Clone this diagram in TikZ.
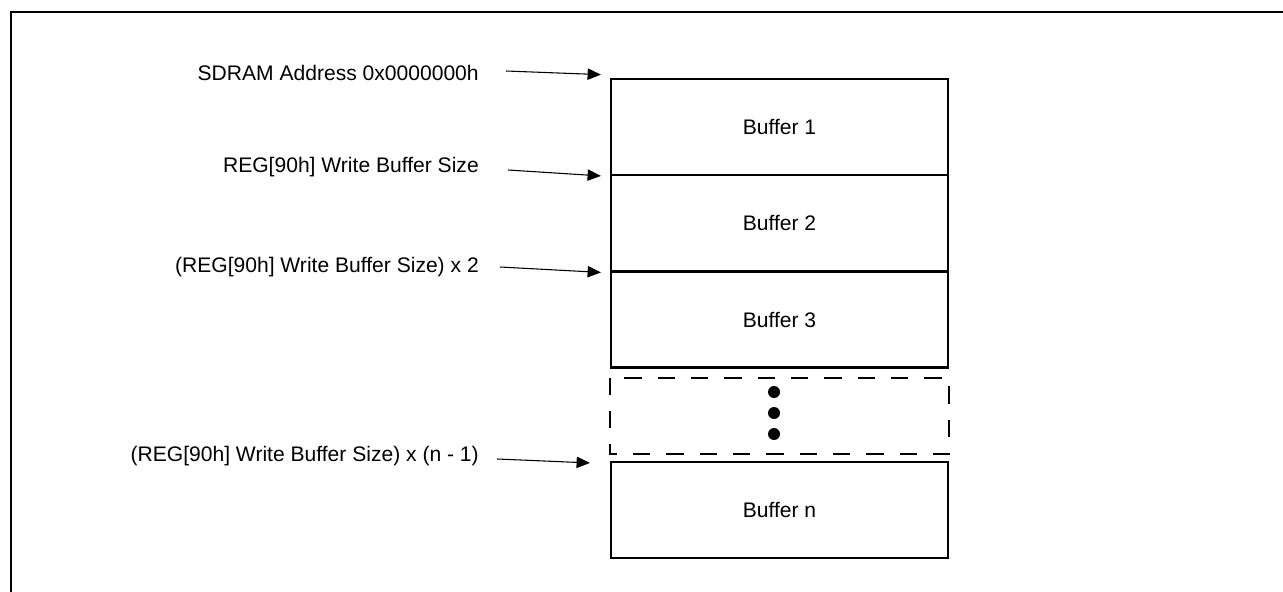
\documentclass[tikz,border=0pt]{standalone}
\usepackage{fontspec}
\setmainfont{Liberation Sans}
\usetikzlibrary{arrows.meta}
\begin{document}
\begin{tikzpicture}[x=0.75pt,y=-0.75pt,
    font=\fontsize{15.8pt}{18pt}\selectfont,
    buf/.style={draw,line width=1.6pt,minimum width=252.75pt,minimum height=72pt,inner sep=0pt},
    lbl/.style={anchor=base east,inner sep=0pt},
    arr/.style={-{Triangle[length=10pt,width=8.5pt]},line width=0.8pt}]
    \useasboundingbox (0,0) rectangle (1283,592);
    \draw[line width=1.6pt] (1283,12) -- (11,12) -- (11,592);
    % buffers
    \node[buf] (B1) at (779.5,126.7) {Buffer 1};
    \node[buf] (B2) at (779.5,222.7) {Buffer 2};
    \node[buf] (B3) at (779.5,319.5) {Buffer 3};
    \node[buf,draw=none,minimum height=56pt] (D) at (779.5,416) {};
    \draw[line width=1.6pt,dash pattern=on 13pt off 12pt] (D.north west) rectangle (D.south east);
    \foreach \y in {392,413,434}
        \fill (774,\y) circle (4.5pt);
    \node[buf] (Bn) at (779.5,510) {Buffer n};
    % labels
    \node[lbl] (L1) at (479,80.5) {SDRAM Address 0x0000000h};
    \node[lbl] (L2) at (479,172.5) {REG[90h] Write Buffer Size};
    \node[lbl] (L3) at (479,272.5) {(REG[90h] Write Buffer Size) x 2};
    \node[lbl] (L4) at (479,461) {(REG[90h] Write Buffer Size) x (n - 1)};
    \draw[arr] ([shift={(27,-9.5)}]L1.base east) -- ([shift={(-9,-3)}]B1.north west);
    \draw[arr] ([shift={(29,-2.5)}]L2.base east) -- ([shift={(-9,2.3)}]B2.north west);
    \draw[arr] ([shift={(21,-5.5)}]L3.base east) -- ([shift={(-9,2)}]B3.north west);
    \draw[arr] ([shift={(18,-2)}]L4.base east) -- ([shift={(-20,2)}]Bn.north west);
\end{tikzpicture}
\end{document}
